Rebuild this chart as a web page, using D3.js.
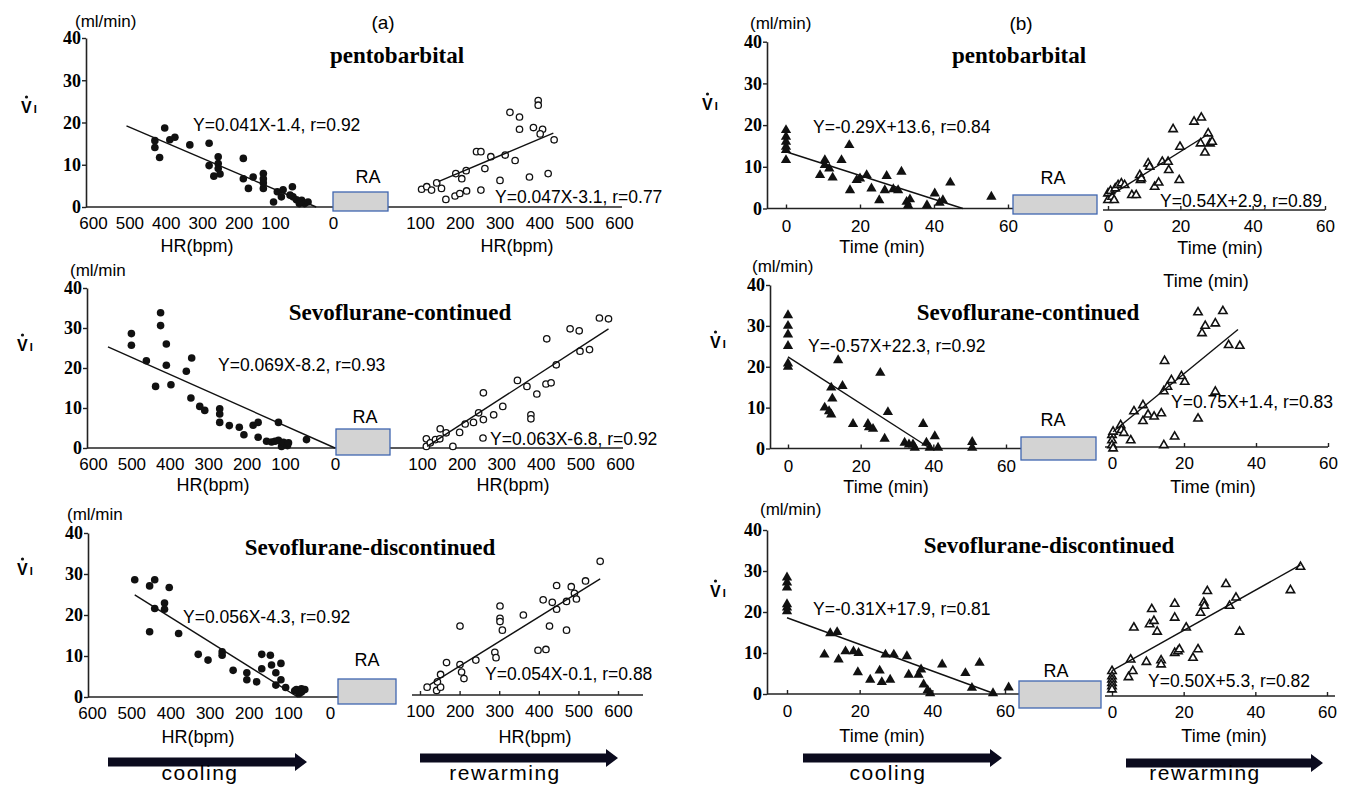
<!DOCTYPE html>
<html>
<head>
<meta charset="utf-8">
<script src="https://cdn.jsdelivr.net/npm/d3@7"></script>
<style>
  body { margin: 0; background: #fff; }
  svg { display: block; }
  .sans { font-family: "Liberation Sans", Arial, sans-serif; }
  .ytick text { font-family: "Liberation Serif", "Times New Roman", serif; font-weight: bold; font-size: 18px; }
  .xtick text { font-family: "Liberation Sans", Arial, sans-serif; font-size: 17px; }
  .title { font-family: "Liberation Serif", "Times New Roman", serif; font-weight: bold; font-size: 23px; }
</style>
</head>
<body>
<script>
// ---- tick values / labels ----
var vTicks = [0, 10, 20, 30, 40];
var hrCoolTicks = [600, 500, 400, 300, 200, 100, 0];
var hrRewarmTicks = [100, 200, 300, 400, 500, 600];
var timeTicks = [0, 20, 40, 60];
var groupNames = ["pentobarbital", "Sevoflurane-continued", "Sevoflurane-discontinued"];

// ---- (a) VI vs HR : [HR, VI] ----
var pentoHrCool = [[430,15.7],[430,14.1],[417,11.7],[403,18.7],[389,15.9],[375,16.5],[334,14.7],[281,15.1],[281,9.8],[268,7.3],[256,11.9],[256,10.3],[256,9.1],[251,7.8],[187,11.5],[187,6.7],[160,7.1],[173,4.4],[132,7.9],[132,6.7],[132,4.4],[132,5.7],[104,1.2],[96,3.6],[86,4.1],[89,2.4],[70,4.8],[69,2.4],[63,1.7],[54,1.6],[49,0.8],[43,1.2],[74,2.8],[58,0.8]];
var pentoHrCoolFit = [[508,19.2],[29,0]];
var pentoHrRewarm = [[104,4.2],[117,4.8],[129,4.0],[142,5.7],[154,4.4],[165,1.8],[188,2.6],[200,3.2],[217,3.8],[253,4.0],[190,7.9],[205,6.7],[216,8.6],[263,9.1],[242,13.1],[253,13.1],[278,11.9],[301,6.3],[314,12.3],[339,11.0],[326,22.4],[350,21.3],[350,18.4],[375,7.1],[385,18.8],[408,18.4],[402,17.3],[397,25.2],[397,24.1],[422,7.9],[437,15.9]];
var pentoHrRewarmFit = [[146,6.0],[435,17.5]];

var sevoContHrCool = [[500,28.6],[500,25.7],[424,33.8],[424,30.6],[461,21.8],[437,15.4],[409,26],[409,20.7],[397,15.8],[345,12.5],[357,19.2],[343,22.5],[322,10.4],[309,9.4],[270,9.8],[270,8.5],[270,6.4],[245,5.6],[219,5.2],[207,3.3],[183,5.7],[170,6.4],[170,2.7],[148,1.7],[135,1.5],[126,1.7],[117,6.4],[117,1.9],[109,0.4],[104,1.4],[95,0.6],[93,1.3],[57,2.1]];
var sevoContHrCoolFit = [[561,25.3],[0,0]];
var sevoContHrRewarm = [[111,2.3],[111,0.4],[121,1.3],[134,2.1],[146,4.8],[145,2.3],[161,3.8],[178,0.4],[195,3.9],[209,6.0],[230,6.4],[243,8.8],[255,7.1],[255,13.8],[254,2.5],[281,8.3],[304,10.4],[341,16.9],[365,15.4],[375,8.3],[375,7.3],[390,13.5],[413,16],[426,16.3],[415,27.3],[439,20.8],[474,29.8],[497,29.3],[499,24.2],[523,24.6],[548,32.5],[571,32.3]];
var sevoContHrRewarmFit = [[113,0.4],[571,29.8]];

var sevoDiscHrCool = [[491,28.6],[453,27.1],[440,28.6],[403,26.7],[440,21.6],[415,22.9],[415,21.4],[453,15.9],[379,15.5],[329,10.4],[304,9.0],[268,11.0],[268,10.2],[240,6.5],[205,5.9],[205,4.2],[180,3.7],[167,10.4],[167,6.9],[145,10.2],[142,7.8],[131,5.9],[131,2.9],[118,8.2],[118,4.2],[106,2.3],[80,1.8],[74,0.8],[68,2.0],[60,1.8],[68,1.2],[84,1.5]];
var sevoDiscHrCoolFit = [[491,24.9],[77,0]];
var sevoDiscHrRewarm = [[118,2.4],[142,1.6],[152,2.4],[144,3.7],[152,5.5],[167,8.4],[201,17.3],[201,7.9],[205,6.1],[211,4.5],[241,9.0],[289,10.9],[292,9.6],[302,22.2],[302,19.2],[302,18.4],[308,16.3],[361,20.0],[398,11.4],[418,11.6],[411,23.7],[434,23.1],[427,17.3],[445,21.4],[445,27.2],[470,23.3],[470,16.3],[482,26.9],[490,25.3],[495,23.9],[518,28.3],[555,33.1]];
var sevoDiscHrRewarmFit = [[125,3.0],[555,28.8]];

// ---- (b) VI vs time : [min, VI] ----
var pentoTimeCool = [[0,18.8],[0,17.2],[0,16],[0,14.8],[0,14],[0,11.6],[9.2,8],[10.5,11.6],[10.5,10.4],[11.7,9.6],[12.6,7.4],[15.0,11.6],[17.1,15.2],[17.3,4.4],[19.1,6.8],[20.0,7.2],[21.8,8],[23.1,4.8],[25.2,2],[26.7,4.4],[27.2,7.8],[29.0,4.6],[30.3,4.4],[31.2,8.8],[32.6,1.6],[33.0,0.8],[33.5,2.2],[38.1,0.8],[40.2,3.6],[41.5,1.4],[42.4,2],[44.4,6.2],[55.5,2.8]];
var pentoTimeCoolFit = [[0,13.6],[47.8,0]];
var pentoTimeRewarm = [[0,3.6],[0,2],[0.7,4.2],[1.1,2.8],[1.7,2],[2.0,4.8],[2.8,5.6],[3.7,6],[4.6,5.6],[6.6,3.2],[7.8,3.2],[8.8,8],[9.0,6.8],[9.2,7.2],[11.1,10.8],[11.5,10],[12.9,5.2],[14.0,6.2],[15.0,11.2],[16.6,11.2],[16.8,9.2],[18.0,19],[19.7,6.8],[19.9,14.8],[23.8,20.8],[25.8,21.8],[25.6,15.6],[26.8,13.4],[27.7,18],[28.2,15.6],[28.8,16]];
var pentoTimeRewarmFit = [[0,2.8],[27.7,17.8]];

var sevoContTimeCool = [[0,32.6],[0,30],[0,27.9],[0,25.1],[0,20.8],[0,20],[10.1,10],[11.3,9.1],[11.9,8.3],[12.2,12.2],[11.9,14.9],[13.8,21.6],[15.0,15.3],[17.9,6],[22.0,6],[22.3,5.2],[23.4,4.8],[25.4,18.5],[26.6,2.4],[27.5,8.9],[32.1,1.4],[33.3,1],[34.4,1],[34.9,0.2],[37.2,6],[38.1,1.4],[39.0,0.2],[40.4,3],[41.3,0.2],[50.7,1.6],[50.7,0.2]];
var sevoContTimeCoolFit = [[0,22.4],[39.2,0]];
var sevoContTimeRewarm = [[0,3.3],[0,2],[0,0.8],[0.3,4.1],[0.3,0],[2.4,5.7],[2.6,4.5],[3.3,3.8],[5.2,2],[6.1,9.1],[8.6,10.6],[8.6,6.7],[10,8.3],[11.7,7.8],[13.7,8.6],[14.4,0.8],[14.6,21.4],[14.4,14],[15.4,15.1],[16.5,16.7],[17.4,2.9],[19.3,17.7],[20.2,16.3],[23.9,33.3],[23.9,7.3],[25.0,28.2],[25.9,30],[28.7,30.6],[28.7,13.9],[30.8,33.6],[32.4,25.3],[35.5,25.1]];
var sevoContTimeRewarmFit = [[0.3,4.1],[35,29.1]];

var sevoDiscTimeCool = [[0,28.4],[0,27.2],[0,26],[0,21.9],[0,21.1],[0,20.2],[10.3,9.6],[11.9,14.8],[13.8,15.1],[14.2,8.4],[16.1,10.4],[18.3,10.4],[19.7,10],[19.5,5.3],[22.9,3.5],[25.5,5.7],[26.1,2.9],[28.4,3.5],[27.1,9.6],[29.4,9.6],[33.0,9.2],[33.5,4.7],[36.2,4.7],[36.9,6],[37.6,2.3],[38.7,0.9],[39.4,0.2],[42.7,7.2],[49.1,5.1],[50.9,1.5],[53.0,7.6],[56.7,0.2],[61.0,1.6]];
var sevoDiscTimeCoolFit = [[0,18.6],[57.3,0]];
var sevoDiscTimeRewarm = [[0,5.6],[0,4.3],[0,3.5],[0,2.7],[0,1.9],[0,1.1],[4.6,4.1],[5.8,5.6],[5.2,8.4],[6.1,16.2],[9.6,7.8],[11.1,20.7],[10.5,17],[11.7,17.8],[12.6,15.2],[13.7,8.2],[13.7,7.2],[17.5,22],[17.5,18.6],[17.5,10],[18.4,10.4],[18.8,10.9],[20.7,16.2],[22.6,8.8],[24.0,10.9],[24.7,19.8],[25.6,22.3],[25.8,21.5],[26.6,25.1],[31.8,26.8],[32.8,21.5],[34.6,23.5],[35.6,15.2],[49.8,25.3],[52.6,31]];
var sevoDiscTimeRewarmFit = [[0,5.7],[52.6,31.5]];

var hrEquations = ["Y=0.041X-1.4, r=0.92", "Y=0.047X-3.1, r=0.77", "Y=0.069X-8.2, r=0.93", "Y=0.063X-6.8, r=0.92", "Y=0.056X-4.3, r=0.92", "Y=0.054X-0.1, r=0.88"];
var timeEquations = ["Y=-0.29X+13.6, r=0.84", "Y=0.54X+2.9, r=0.89", "Y=-0.57X+22.3, r=0.92", "Y=0.75X+1.4, r=0.83", "Y=-0.31X+17.9, r=0.81", "Y=0.50X+5.3, r=0.82"];

// ---- layout of the six panels (pixel positions) ----
var panels = [
  {kind:"hr", grp:0, cool:pentoHrCool, coolFit:pentoHrCoolFit, rew:pentoHrRewarm, rewFit:pentoHrRewarmFit, eqL:hrEquations[0], eqR:hrEquations[1],
   yAxisX:86, y0:207, y40:38, leftRng:[93,275,333], leftLine:[86,333], ra:[333,388,192,211], rightRng:[420,619], rightLine:[388,622], rightBase:207, rightTick:0,
   title:[397,63], eqLpos:[193,131], eqRpos:[495,203], ml:[75,27,"(ml/min)"], v:[21,113], raLabel:[368,183],
   xLabels:[["HR(bpm)",197,252],["HR(bpm)",517,252]]},
  {kind:"hr", grp:1, cool:sevoContHrCool, coolFit:sevoContHrCoolFit, rew:sevoContHrRewarm, rewFit:sevoContHrRewarmFit, eqL:hrEquations[2], eqR:hrEquations[3],
   yAxisX:87, y0:448, y40:288, leftRng:[93,285,335], leftLine:[87,336], ra:[336,390,429,455], rightRng:[422,620], rightLine:[390,623], rightBase:448, rightTick:0,
   title:[400,320], eqLpos:[218,371], eqRpos:[490,445], ml:[70,276,"(ml/min"], v:[17,351], raLabel:[365,423],
   xLabels:[["HR(bpm)",213,491],["HR(bpm)",513,491]]},
  {kind:"hr", grp:2, cool:sevoDiscHrCool, coolFit:sevoDiscHrCoolFit, rew:sevoDiscHrRewarm, rewFit:sevoDiscHrRewarmFit, eqL:hrEquations[4], eqR:hrEquations[5],
   yAxisX:88, y0:697, y40:533, leftRng:[92,288,330], leftLine:[88,338], ra:[338,396,679,704], rightRng:[420,618], rightLine:[412,643], rightBase:695, rightTick:4,
   title:[370,555], eqLpos:[183,623], eqRpos:[485,680], ml:[67,520,"(ml/min"], v:[17,575], raLabel:[367,666],
   xLabels:[["HR(bpm)",198,743],["HR(bpm)",535,743]]},
  {kind:"time", grp:0, cool:pentoTimeCool, coolFit:pentoTimeCoolFit, rew:pentoTimeRewarm, rewFit:pentoTimeRewarmFit, eqL:timeEquations[0], eqR:timeEquations[1],
   yAxisX:767, y0:208.5, y40:41.7, leftRng:[786,1008], leftLine:[767,1013], ra:[1013,1097,195,214], rightRng:[1108,1325], rightLine:[1103,1325], rightBase:210, rightTick:4,
   title:[1019,63], eqLpos:[813,133], eqRpos:[1160,207], ml:[750,29,"(ml/min)"], v:[702,110], raLabel:[1053,184],
   xLabels:[["Time (min)",882,253],["Time (min)",1220,254],["Time (min)",1206,287]]},
  {kind:"time", grp:1, cool:sevoContTimeCool, coolFit:sevoContTimeCoolFit, rew:sevoContTimeRewarm, rewFit:sevoContTimeRewarmFit, eqL:timeEquations[2], eqR:timeEquations[3],
   yAxisX:770, y0:448.5, y40:285, leftRng:[788,1006], leftLine:[770,1021], ra:[1021,1096,437,460], rightRng:[1112,1328], rightLine:[1105,1328], rightBase:447, rightTick:4,
   title:[1028,320], eqLpos:[808,352], eqRpos:[1171,408], ml:[752,272,"(ml/min)"], v:[710,348], raLabel:[1053,426],
   xLabels:[["Time (min)",886,493],["Time (min)",1213,493]]},
  {kind:"time", grp:2, cool:sevoDiscTimeCool, coolFit:sevoDiscTimeCoolFit, rew:sevoDiscTimeRewarm, rewFit:sevoDiscTimeRewarmFit, eqL:timeEquations[4], eqR:timeEquations[5],
   yAxisX:767, y0:694, y40:530, leftRng:[787,1005], leftLine:[767,1019], ra:[1019,1101,681,708], rightRng:[1112,1327], rightLine:[1105,1335], rightBase:696, rightTick:4,
   title:[1049,553], eqLpos:[813,615], eqRpos:[1148,687], ml:[760,515,"(ml/min)"], v:[710,597], raLabel:[1056,677],
   xLabels:[["Time (min)",882,742],["Time (min)",1224,742]]}
];

var svg = d3.select("body").append("svg")
    .attr("width", 1348)
    .attr("height", 785);

var line = d3.line();

panels.forEach(function(p) {
  var g = svg.append("g");
  var y = d3.scaleLinear().domain([0, 40]).range([p.y0, p.y40]);
  var xl, xr, lTicks, rTicks;
  if (p.kind == "hr") {
    xl = d3.scaleLinear().domain([600, 100, 0]).range(p.leftRng);
    xr = d3.scaleLinear().domain([100, 600]).range(p.rightRng);
    lTicks = hrCoolTicks; rTicks = hrRewarmTicks;
  } else {
    xl = d3.scaleLinear().domain([0, 60]).range(p.leftRng);
    xr = d3.scaleLinear().domain([0, 60]).range(p.rightRng);
    lTicks = timeTicks; rTicks = timeTicks;
  }

  // y axis
  var ya = g.append("g")
      .attr("class", "ytick")
      .attr("transform", "translate(" + p.yAxisX + ",0)")
      .call(d3.axisLeft(y).tickValues(vTicks).tickSize(4).tickSizeOuter(0).tickPadding(1));
  ya.select(".domain").attr("stroke", "#222").attr("stroke-width", 1.6);
  ya.selectAll(".tick line").attr("stroke", "#222").attr("stroke-width", 1.4);

  // x axes (left: cooling, right: rewarming)
  var xaL = g.append("g")
      .attr("class", "xtick")
      .attr("transform", "translate(0," + p.y0 + ")")
      .call(d3.axisBottom(xl).tickValues(lTicks).tickSize(p.kind == "time" ? -4 : 0).tickPadding(p.kind == "time" ? 11 : 10));
  xaL.select(".domain").remove();
  xaL.selectAll(".tick line").attr("stroke", "#222").attr("stroke-width", 1.4);
  var xaR = g.append("g")
      .attr("class", "xtick")
      .attr("transform", "translate(0," + p.rightBase + ")")
      .call(d3.axisBottom(xr).tickValues(rTicks).tickSize(-p.rightTick).tickPadding(p.kind == "time" ? 10 : 10));
  xaR.select(".domain").remove();
  xaR.selectAll(".tick line").attr("stroke", "#222").attr("stroke-width", 1.4);

  g.append("line").attr("x1", p.leftLine[0]).attr("x2", p.leftLine[1])
      .attr("y1", p.y0).attr("y2", p.y0)
      .attr("stroke", "#222").attr("stroke-width", 1.6);
  g.append("line").attr("x1", p.rightLine[0]).attr("x2", p.rightLine[1])
      .attr("y1", p.rightBase).attr("y2", p.rightBase)
      .attr("stroke", "#222").attr("stroke-width", 1.6);

  // RA box
  g.append("rect")
      .attr("x", p.ra[0]).attr("y", p.ra[2])
      .attr("width", p.ra[1] - p.ra[0]).attr("height", p.ra[3] - p.ra[2])
      .attr("fill", "#d3d3d3").attr("stroke", "#3f66b0").attr("stroke-width", 1.3);
  g.append("text").attr("class", "sans")
      .attr("x", p.raLabel[0]).attr("y", p.raLabel[1])
      .attr("text-anchor", "middle").style("font-size", "18px")
      .text("RA");

  // points
  if (p.kind == "hr") {
    g.append("g").selectAll("circle")
      .data(p.cool).enter().append("circle")
        .attr("cx", function(d) { return xl(d[0]); })
        .attr("cy", function(d) { return y(d[1]); })
        .attr("r", 3.8)
        .attr("fill", "#111");
    g.append("g").selectAll("circle")
      .data(p.rew).enter().append("circle")
        .attr("cx", function(d) { return xr(d[0]); })
        .attr("cy", function(d) { return y(d[1]); })
        .attr("r", 3.2)
        .attr("fill", "#fff").attr("stroke", "#111").attr("stroke-width", 1.3);
  } else {
    var triF = d3.symbol().type(d3.symbolTriangle).size(46);
    var triO = d3.symbol().type(d3.symbolTriangle).size(30);
    g.append("g").selectAll("path")
      .data(p.cool).enter().append("path")
        .attr("d", triF)
        .attr("transform", function(d) { return "translate(" + xl(d[0]) + "," + y(d[1]) + ")"; })
        .attr("fill", "#111");
    g.append("g").selectAll("path")
      .data(p.rew).enter().append("path")
        .attr("d", triO)
        .attr("transform", function(d) { return "translate(" + xr(d[0]) + "," + y(d[1]) + ")"; })
        .attr("fill", "#fff").attr("stroke", "#111").attr("stroke-width", 1.6);
  }

  // regression lines
  g.append("path")
      .attr("d", line(p.coolFit.map(function(d) { return [xl(d[0]), y(d[1])]; })))
      .attr("stroke", "#111").attr("stroke-width", 1.4).attr("fill", "none");
  g.append("path")
      .attr("d", line(p.rewFit.map(function(d) { return [xr(d[0]), y(d[1])]; })))
      .attr("stroke", "#111").attr("stroke-width", 1.4).attr("fill", "none");

  // texts
  g.append("text").attr("class", "title")
      .attr("x", p.title[0]).attr("y", p.title[1])
      .attr("text-anchor", "middle")
      .text(groupNames[p.grp]);
  g.append("text").attr("class", "sans")
      .attr("x", p.eqLpos[0]).attr("y", p.eqLpos[1])
      .style("font-size", "17.5px")
      .text(p.eqL);
  g.append("text").attr("class", "sans")
      .attr("x", p.eqRpos[0]).attr("y", p.eqRpos[1])
      .style("font-size", "17.5px")
      .text(p.eqR);
  g.append("text").attr("class", "sans")
      .attr("x", p.ml[0]).attr("y", p.ml[1])
      .style("font-size", "17px")
      .text(p.ml[2]);
  var vt = g.append("text").attr("class", "sans")
      .attr("x", p.v[0]).attr("y", p.v[1])
      .style("font-size", "16px").style("font-weight", "bold")
      .text("V");
  vt.append("tspan").attr("dx", 2).style("font-size", "11px").text("I");
  g.append("circle")
      .attr("cx", p.v[0] + 5.5).attr("cy", p.v[1] - 16)
      .attr("r", 1.6).attr("fill", "#111");
  p.xLabels.forEach(function(l) {
    g.append("text").attr("class", "sans")
        .attr("x", l[1]).attr("y", l[2])
        .attr("text-anchor", "middle").style("font-size", "18px")
        .text(l[0]);
  });
});

// panel letters
svg.append("text").attr("class", "sans").attr("x", 383).attr("y", 29)
    .attr("text-anchor", "middle").style("font-size", "19px").text("(a)");
svg.append("text").attr("class", "sans").attr("x", 1021).attr("y", 30)
    .attr("text-anchor", "middle").style("font-size", "19px").text("(b)");

// cooling / rewarming arrows
var arrows = [
  {x1:108, x2:307, y:762, label:"cooling", lx:200},
  {x1:420, x2:618, y:758, label:"rewarming", lx:505},
  {x1:803, x2:1002, y:758, label:"cooling", lx:888},
  {x1:1126, x2:1323, y:763, label:"rewarming", lx:1205}
];
arrows.forEach(function(a) {
  var h = 4.5, hh = 9, hl = 12;
  var pts = [[a.x1, a.y - h], [a.x2 - hl, a.y - h], [a.x2 - hl, a.y - hh], [a.x2, a.y],
             [a.x2 - hl, a.y + hh], [a.x2 - hl, a.y + h], [a.x1, a.y + h]];
  svg.append("polygon")
      .attr("points", pts.map(function(d) { return d.join(","); }).join(" "))
      .attr("fill", "#0b0b1e");
  svg.append("text").attr("class", "sans")
      .attr("x", a.lx).attr("y", 780)
      .attr("text-anchor", "middle").style("font-size", "21px").style("letter-spacing", "1.5px")
      .text(a.label);
});
</script>
</body>
</html>
